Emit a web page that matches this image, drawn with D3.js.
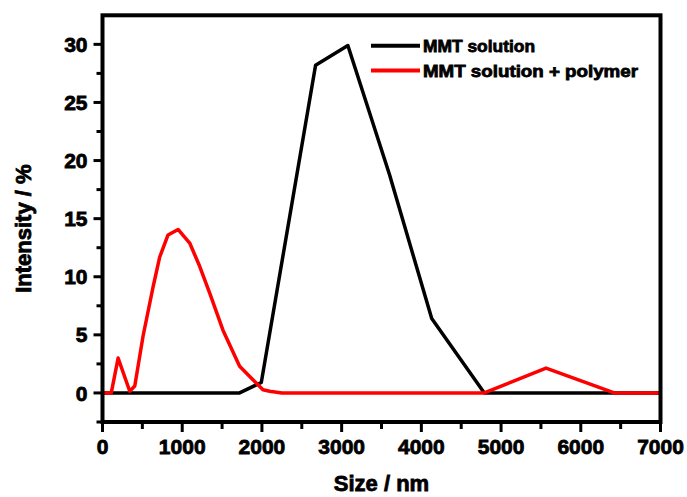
<!DOCTYPE html>
<html>
<head>
<meta charset="utf-8">
<script src="https://cdn.jsdelivr.net/npm/d3@7"></script>
<style>
  body { margin: 0; background: #fff; }
  text { font-family: "Liberation Sans", Arial, sans-serif; font-weight: bold; }
</style>
</head>
<body>
<div id="chart"></div>
<script>
// Size (nm) / intensity (%) readings
const mmtSize = [0, 1720, 1992, 2673, 3078, 3600, 4130, 4790, 7000];
const mmtIntensity = [0, 0, 0.9, 28.2, 29.9, 18.8, 6.4, 0, 0];

const polySize = [0, 110, 196, 342, 405, 509, 634, 718, 822, 948, 1094, 1219, 1345, 1511, 1720, 1887, 2013, 2097, 2250, 4790, 5564, 6420, 7000];
const polyIntensity = [0, 0, 3.0, 0.15, 0.6, 4.9, 9.1, 11.7, 13.6, 14.07, 12.9, 10.9, 8.6, 5.4, 2.3, 1.14, 0.28, 0.14, 0, 0, 2.14, 0, 0];

const seriesNames = ["MMT solution", "MMT solution + polymer"];
const seriesColors = ["#000000", "#ff0000"];

const xTicks = [0, 1000, 2000, 3000, 4000, 5000, 6000, 7000];
const yTicks = [0, 5, 10, 15, 20, 25, 30];

const width = 687, height = 497;
const plotL = 102.5, plotR = 660.5, plotT = 15.3, plotB = 422;

const svg = d3.select("#chart").append("svg")
    .attr("width", width)
    .attr("height", height);

const x = d3.scaleLinear().domain([0, 7000]).range([plotL, plotR]);
const y = d3.scaleLinear().domain([-2.5, 32.5]).range([plotB, plotT]);

// minor ticks
const xMinor = d3.range(500, 7000, 1000);
const yMinor = d3.range(-2.5, 32.5, 5);

svg.append("g").selectAll("line").data(xMinor).join("line")
    .attr("x1", d => x(d)).attr("x2", d => x(d))
    .attr("y1", plotB).attr("y2", plotB + 7)
    .attr("stroke", "#000").attr("stroke-width", 3);
svg.append("g").selectAll("line").data(xTicks).join("line")
    .attr("x1", d => x(d)).attr("x2", d => x(d))
    .attr("y1", plotB).attr("y2", plotB + 10)
    .attr("stroke", "#000").attr("stroke-width", 3);
svg.append("g").selectAll("line").data(yMinor).join("line")
    .attr("x1", plotL - 6).attr("x2", plotL)
    .attr("y1", d => y(d)).attr("y2", d => y(d))
    .attr("stroke", "#000").attr("stroke-width", 3);
svg.append("g").selectAll("line").data(yTicks).join("line")
    .attr("x1", plotL - 9).attr("x2", plotL)
    .attr("y1", d => y(d)).attr("y2", d => y(d))
    .attr("stroke", "#000").attr("stroke-width", 3);

// tick labels
svg.append("g").selectAll("text").data(xTicks).join("text")
    .attr("x", d => x(d)).attr("y", plotB + 32)
    .attr("text-anchor", "middle")
    .style("font-size", "21px")
    .attr("stroke", "#000").attr("stroke-width", 0.8)
    .text(d => d);
svg.append("g").selectAll("text").data(yTicks).join("text")
    .attr("x", plotL - 15).attr("y", d => y(d))
    .attr("dy", "0.36em")
    .attr("text-anchor", "end")
    .style("font-size", "21px")
    .attr("stroke", "#000").attr("stroke-width", 0.8)
    .text(d => d);

// axis titles
svg.append("text")
    .attr("x", (plotL + plotR) / 2).attr("y", 491)
    .attr("text-anchor", "middle")
    .style("font-size", "22px")
    .attr("stroke", "#000").attr("stroke-width", 0.8)
    .text("Size / nm");
svg.append("text")
    .attr("transform", `translate(31,${(plotT + plotB) / 2 + 10}) rotate(-90)`)
    .attr("text-anchor", "middle")
    .style("font-size", "22px")
    .attr("stroke", "#000").attr("stroke-width", 0.8)
    .text("Intensity / %");

// data lines
const line = d3.line().x(d => x(d[0])).y(d => y(d[1]));
const mmt = d3.zip(mmtSize, mmtIntensity);
const poly = d3.zip(polySize, polyIntensity);

svg.append("path").datum(mmt)
    .attr("fill", "none").attr("stroke", seriesColors[0])
    .attr("stroke-width", 3.5).attr("stroke-linejoin", "round")
    .attr("d", line);
svg.append("path").datum(poly)
    .attr("fill", "none").attr("stroke", seriesColors[1])
    .attr("stroke-width", 3.5).attr("stroke-linejoin", "round")
    .attr("d", line);

// frame
svg.append("rect")
    .attr("x", plotL).attr("y", plotT)
    .attr("width", plotR - plotL).attr("height", plotB - plotT)
    .attr("fill", "none").attr("stroke", "#000").attr("stroke-width", 4);

// legend
const legend = svg.append("g").selectAll("g").data(seriesNames).join("g")
    .attr("transform", (d, i) => `translate(371,${45.7 + i * 24.8})`);
legend.append("line")
    .attr("x1", 0).attr("x2", 49)
    .attr("stroke", (d, i) => seriesColors[i]).attr("stroke-width", 4);
legend.append("text")
    .attr("x", 52).attr("dy", "0.36em")
    .style("font-size", "17px")
    .attr("stroke", "#000").attr("stroke-width", 0.8)
    .attr("textLength", (d, i) => i === 0 ? 112 : 215)
    .attr("lengthAdjust", "spacingAndGlyphs")
    .text(d => d);
</script>
</body>
</html>
